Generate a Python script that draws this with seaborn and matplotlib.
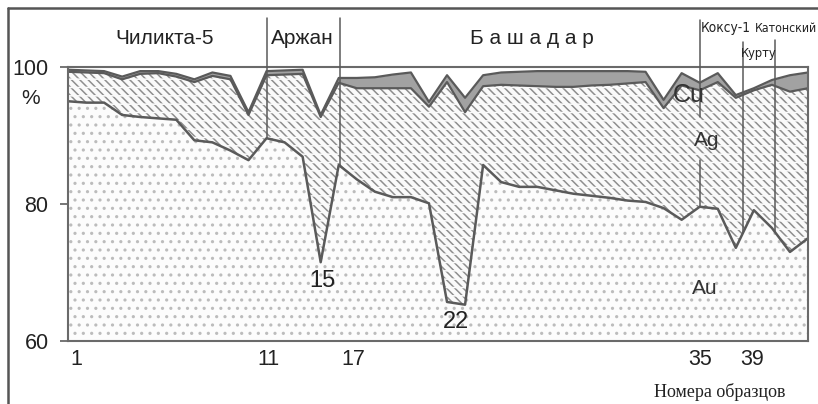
import numpy as np
import pandas as pd
import matplotlib
matplotlib.use("Agg")
import matplotlib.pyplot as plt
from matplotlib import font_manager
import seaborn as sns

# ---------------- data ----------------
sample = list(range(1, 43))
au = [95.0, 94.8, 94.8, 93.0, 92.7, 92.5, 92.3, 89.3, 89.0, 87.8,
      86.4, 89.6, 89.0, 86.9, 71.5, 85.7, 83.6, 81.8, 81.0, 81.0,
      80.1, 65.7, 65.3, 85.7, 83.2, 82.5, 82.5, 82.0, 81.5, 81.2,
      80.9, 80.5, 80.3, 79.4, 77.7, 79.6, 79.3, 73.6, 79.1, 76.5,
      73.0, 75.0]
ag = [4.3, 4.4, 4.3, 5.2, 6.3, 6.6, 6.3, 8.5, 9.7, 10.4,
      6.6, 9.2, 9.9, 12.1, 21.2, 12.0, 13.3, 15.1, 15.9, 15.9,
      14.1, 32.1, 28.1, 11.5, 14.2, 14.8, 14.7, 15.1, 15.6, 16.1,
      16.5, 17.1, 17.5, 14.6, 19.6, 17.0, 18.5, 21.9, 17.5, 20.9,
      23.4, 21.9]
cu = [0.3, 0.3, 0.3, 0.4, 0.4, 0.3, 0.4, 0.4, 0.5, 0.5,
      0.4, 0.6, 0.6, 0.6, 0.3, 0.7, 1.5, 1.6, 2.0, 2.3,
      0.7, 1.0, 2.1, 1.6, 1.8, 2.0, 2.2, 2.3, 2.3, 2.1,
      2.0, 1.8, 1.5, 1.2, 1.8, 1.1, 1.3, 0.4, 0.3, 0.7,
      2.4, 2.3]

y_ticks = [60, 80, 100]
x_tick_labels = ["1", "11", "17", "35", "39"]
x_tick_pos = [1.45, 12.1, 16.8, 36.0, 38.9]

deposits = ["Чиликта-5", "Аржан", "Б а ш а д а р", "Коксу-1", "Курту", "Катонский"]
boundaries = [12.03, 16.07, 36.0, 38.4, 40.17]
dip_labels = ["15", "22"]

df = pd.DataFrame({"sample": sample, "Au": au, "Ag": ag, "Cu": cu})
df["AuAg"] = df["Au"] + df["Ag"]
df["Total"] = df["AuAg"] + df["Cu"]

# ---------------- figure ----------------
sns.set_theme(style="white")
plt.rcParams["font.family"] = ["Liberation Sans", "DejaVu Sans"]
plt.rcParams["hatch.linewidth"] = 1.1

# find a condensed / narrow sans face if one is installed
cond_prop = None
for fe in font_manager.fontManager.ttflist:
    nm = fe.name.lower()
    st = str(fe.stretch).lower()
    if ("narrow" in nm or "condensed" in nm or st in ("condensed", "semi-condensed", "extra-condensed")) \
            and "serif" not in nm and "mono" not in nm and fe.style == "normal" and fe.weight in (400, "normal", "regular"):
        cond_prop = font_manager.FontProperties(fname=fe.fname)
        break

W, H = 818, 404
fig = plt.figure(figsize=(W / 100, H / 100), dpi=100)
fig.patch.set_facecolor("white")

def fx(px):
    return px / W

def fy(py):
    return 1 - py / H

ax = fig.add_axes([fx(68), fy(341), fx(808) - fx(68), fy(67) - fy(341)])
ax.set_facecolor("white")

x = df["sample"].to_numpy()
dark = "#5a5a5a"

ax.fill_between(x, 60, df["Au"], facecolor="#fcfcfc", hatch="..", edgecolor="#bcbcbc", linewidth=0)
ax.fill_between(x, df["Au"], df["AuAg"], facecolor="#fafafa", hatch="\\\\\\\\", edgecolor="#8e8e8e", linewidth=0)
ax.fill_between(x, df["Au"], df["AuAg"], facecolor="none", hatch="--", edgecolor="#fafafa", linewidth=0)
ax.fill_between(x, df["AuAg"], df["Total"], facecolor="#a2a2a2", linewidth=0)

for col, lw in [("Au", 1.8), ("AuAg", 1.6), ("Total", 1.6)]:
    sns.lineplot(data=df, x="sample", y=col, ax=ax, color=dark, linewidth=lw, legend=False)

ax.set_xlim(1, 42)
ax.set_ylim(60, 100)
ax.set_xlabel("")
ax.set_ylabel("")
for s in ax.spines.values():
    s.set_color("#6a6a6a")
    s.set_linewidth(1.5)
    s.set_visible(True)

ax.set_yticks(y_ticks)
ax.set_yticklabels([str(v) for v in y_ticks], fontsize=15.5, color="#222222")
ax.tick_params(axis="y", direction="out", length=6, width=1.3, color="#6a6a6a", pad=8, left=True)
ax.set_xticks(x_tick_pos)
ax.set_xticklabels(x_tick_labels, fontsize=15.5, color="#222222")
ax.tick_params(axis="x", length=0, pad=6)

# boundary leader lines (from above the plot down to the Au curve)
def px_to_val(py):
    return 100 - (py - 67) / 6.85

tops = [18, 18, 20, 42, 40]
for xb, tp in zip(boundaries, tops):
    yb = np.interp(xb, x, df["Au"])
    if xb == 36.0:
        ax.plot([xb, xb], [px_to_val(tp), px_to_val(117)], color=dark, lw=1.1, clip_on=False, zorder=5)
        ax.plot([xb, xb], [px_to_val(160), yb], color=dark, lw=1.1, clip_on=False, zorder=5)
    else:
        ax.plot([xb, xb], [px_to_val(tp), yb], color=dark, lw=1.1, clip_on=False, zorder=5)

# deposit names
txt_kw = dict(color="#222222", ha="center", va="center")
fig.text(fx(165), fy(38), deposits[0], fontsize=15, **txt_kw)
fig.text(fx(302), fy(38), deposits[1], fontsize=15, **txt_kw)
fig.text(fx(532), fy(38), deposits[2], fontsize=15, **txt_kw)
if cond_prop is not None:
    specs = [(deposits[3], 701, 28, 9.8, "left"),
             (deposits[4], 759, 53, 9.2, "center"),
             (deposits[5], 817, 29, 8.8, "right")]
    for txt, px, py, fs, ha in specs:
        fp = cond_prop.copy()
        fp.set_size(fs)
        fig.text(fx(px), fy(py), txt, fontproperties=fp, color="#222222", ha=ha, va="center")
else:
    specs = [(deposits[3], 701, 28, 8.5, "left"),
             (deposits[4], 759, 53, 8.5, "center"),
             (deposits[5], 817, 29, 7.8, "right")]
    for txt, px, py, fs, ha in specs:
        fig.text(fx(px), fy(py), txt, fontsize=fs, color="#222222", ha=ha, va="center",
                 family=["Liberation Sans", "DejaVu Sans"])

# other labels
fig.text(fx(31), fy(98), "%", fontsize=15, **txt_kw)
ax.text(15.1, px_to_val(270), dip_labels[0], fontsize=17, color="#222222", ha="center", va="top")
ax.text(22.5, px_to_val(311), dip_labels[1], fontsize=17, color="#222222", ha="center", va="top")
fig.text(fx(689), fy(95), "Cu", fontsize=18, color="#333333", ha="center", va="center")
fig.text(fx(707), fy(140), "Ag", fontsize=15, color="#333333", ha="center", va="center")
fig.text(fx(705), fy(288), "Au", fontsize=15, color="#333333", ha="center", va="center")
fig.text(fx(720), fy(392), "Номера образцов", fontsize=13, family=["Liberation Serif", "DejaVu Serif"],
         color="#222222", ha="center", va="center")

# outer chart frame (top and left edges visible)
fig.add_artist(plt.Line2D([fx(8), fx(8)], [fy(8), fy(404)], color="#555555", lw=1.8))
fig.add_artist(plt.Line2D([fx(8), fx(818)], [fy(8), fy(8)], color="#555555", lw=1.8))

fig.savefig("out.png", dpi=100)
